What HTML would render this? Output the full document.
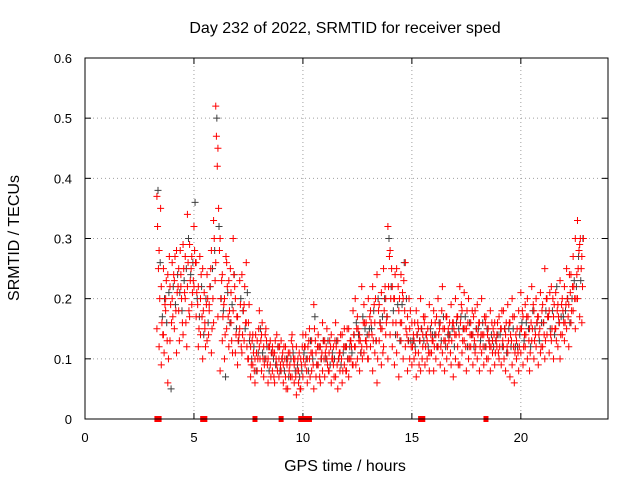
<!DOCTYPE html>
<html><head><meta charset="utf-8">
<style>
html,body{margin:0;padding:0;background:#fff;}
svg{display:block;font-family:"Liberation Sans",sans-serif;font-size:13px;}
.big{font-size:16px;}
</style></head>
<body>
<svg id="chart" width="640" height="480" viewBox="0 0 640 480">
<rect width="640" height="480" fill="#fff"/>
<text class="big" x="345" y="33" text-anchor="middle">Day 232 of 2022, SRMTID for receiver sped</text>
<text class="big" x="345" y="471" text-anchor="middle">GPS time / hours</text>
<text class="big" x="19" y="238" text-anchor="middle" transform="rotate(-90 19 238)">SRMTID / TECUs</text>
<g id="grid"></g>
<g id="ticks"></g>
<g id="marks"></g>
<rect x="85" y="58" width="523" height="361" fill="none" stroke="#000" stroke-width="1"/>
</svg>
<script>
const xTicks=[0,5,10,15,20];
const yTicks=[0,0.1,0.2,0.3,0.4,0.5,0.6];
const yTickLabels=["0","0.1","0.2","0.3","0.4","0.5","0.6"];
const redStart=3.3;
const redCStart=3.33;
const redDStart=3.37;
const blackStart=3.35;
const redA=[.37,.28,.22,.25,.2,.24,.22,
.26,.23,.28,.25,.22,.29,.27,.34,.29,.27,
.32,.26,.22,.2,.25,.16,.24,.19,.28,.33,
.52,.45,.3,.24,.2,.26,.23,.21,.3,.2,
.17,.23,.24,.19,.26,.16,.12,.14,.1,.13,
.18,.14,.12,.15,.1,.13,.12,.11,.14,.1,
.13,.09,.12,.1,.11,.14,.09,.12,.08,.1,
.14,.12,.1,.15,.13,.19,.11,.14,.12,.16,
.13,.15,.11,.14,.12,.16,.13,.11,.14,.15,
.12,.15,.13,.18,.2,.17,.14,.22,.19,.16,
.2,.18,.22,.16,.24,.19,.21,.25,.2,.32,
.28,.22,.2,.25,.18,.24,.2,.26,.17,.15,
.16,.13,.18,.15,.2,.14,.17,.13,.19,.16,
.18,.14,.2,.16,.22,.15,.17,.14,.19,.16,
.2,.17,.22,.18,.21,.15,.2,.16,.14,.18,
.19,.16,.2,.14,.17,.15,.18,.13,.16,.14,
.17,.15,.18,.14,.19,.16,.2,.17,.13,.18,
.21,.17,.19,.2,.15,.22,.18,.2,.17,.21,
.19,.25,.2,.18,.22,.17,.21,.19,.23,.2,
.22,.25,.19,.24,.27,.3,.33,.29,.27];
const redB=[.15,.12,.09,.14,.18,.06,.13,
.2,.15,.11,.18,.24,.14,.2,.22,.17,.19,
.22,.17,.12,.14,.1,.15,.13,.18,.11,.16,
.26,.17,.08,.13,.1,.15,.12,.16,.18,.11,
.09,.15,.11,.13,.16,.1,.07,.09,.06,.08,
.12,.08,.07,.1,.06,.09,.08,.06,.09,.07,
.08,.06,.07,.05,.09,.07,.06,.04,.06,.05,
.07,.09,.06,.1,.08,.05,.07,.09,.06,.08,
.07,.1,.08,.06,.09,.07,.05,.08,.06,.09,
.08,.07,.1,.09,.12,.1,.08,.12,.11,.13,
.1,.12,.08,.11,.06,.13,.09,.12,.14,.1,
.14,.12,.09,.11,.07,.13,.1,.12,.08,.1,
.09,.1,.07,.11,.08,.12,.09,.1,.08,.11,
.08,.1,.12,.09,.11,.08,.1,.13,.09,.07,
.1,.12,.09,.11,.13,.08,.1,.12,.09,.11,
.1,.08,.11,.09,.12,.1,.08,.11,.09,.12,
.1,.09,.12,.08,.11,.07,.09,.06,.1,.08,
.11,.09,.12,.1,.08,.13,.1,.12,.09,.11,
.12,.1,.14,.11,.13,.1,.15,.12,.1,.14,
.13,.15,.12,.16,.18,.15,.2,.17,.16];
const redC=[.32,.2,.16,.11,.23,.1,.19,
.17,.27,.21,.13,.2,.25,.16,.26,.23,.21,
.28,.21,.15,.24,.18,.12,.2,.22,.15,.3,
.47,.35,.2,.17,.14,.22,.18,.13,.24,.14,
.13,.19,.14,.22,.12,.19,.09,.11,.14,.1,
.1,.16,.09,.13,.12,.07,.11,.13,.08,.12,
.1,.12,.05,.11,.07,.12,.1,.08,.11,.09,
.1,.14,.12,.07,.11,.15,.09,.12,.1,.13,
.11,.09,.13,.1,.07,.12,.1,.14,.08,.12,
.15,.1,.12,.14,.09,.15,.13,.1,.16,.12,
.14,.16,.13,.2,.1,.16,.15,.18,.16,.22,
.2,.16,.24,.14,.2,.16,.23,.15,.13,.18,
.12,.16,.14,.09,.15,.17,.12,.15,.11,.13,
.12,.17,.14,.12,.15,.13,.12,.16,.13,.15,
.14,.09,.16,.13,.15,.18,.12,.14,.17,.12,
.14,.12,.14,.17,.1,.13,.12,.15,.11,.16,
.12,.18,.1,.16,.13,.14,.17,.11,.15,.12,
.15,.12,.14,.17,.11,.15,.13,.16,.14,.12,
.16,.13,.17,.21,.15,.19,.13,.17,.14,.18,
.16,.2,.24,.18,.22,.2,.25,.3,.22];
const redD=[.25,.35,.14,.19,.13,.27,.16,
.24,.18,.22,.28,.16,.21,.12,.18,.25,.23,
.26,.19,.27,.17,.21,.19,.14,.25,.2,.23,
.42,.28,.23,.19,.27,.17,.25,.11,.22,.17,
.14,.12,.18,.16,.1,.14,.13,.08,.11,.15,
.13,.1,.14,.09,.12,.11,.07,.1,.12,.09,
.11,.1,.09,.08,.13,.1,.07,.1,.05,.12,
.12,.08,.13,.11,.09,.13,.12,.07,.11,.1,
.12,.08,.12,.1,.13,.09,.11,.1,.12,.08,
.1,.13,.09,.12,.15,.13,.11,.16,.13,.1,
.17,.14,.19,.13,.18,.15,.11,.22,.17,.27,
.25,.2,.16,.22,.16,.21,.18,.14,.2,.12,
.14,.11,.16,.13,.1,.16,.14,.11,.14,.13,
.16,.12,.15,.18,.13,.17,.15,.11,.16,.14,
.17,.14,.19,.15,.12,.16,.14,.18,.13,.15,
.16,.14,.12,.16,.14,.12,.16,.14,.13,.11,
.15,.13,.15,.12,.16,.13,.12,.14,.11,.15,
.18,.14,.17,.13,.16,.19,.14,.17,.15,.18,
.14,.2,.17,.14,.2,.15,.18,.16,.19,.16,
.19,.17,.21,.22,.2,.24,.28,.25,.3];
const blackVals=[.38,.26,.17,.2,.16,.21,.05,
.22,.19,.24,.21,.18,.23,.25,.3,.24,.26,
.36,.2,.17,.22,.14,.2,.16,.22,.25,.28,
.5,.32,.2,.18,.07,.21,.16,.19,.24,.15,
.13,.2,.18,.15,.21,.13,.1,.12,.08,.11,
.15,.11,.1,.12,.08,.11,.1,.09,.12,.08,
.1,.08,.1,.07,.1,.11,.08,.09,.07,.08,
.11,.1,.08,.13,.1,.17,.09,.12,.1,.13,
.1,.13,.09,.11,.1,.13,.1,.09,.11,.12,
.1,.12,.11,.14,.16,.14,.11,.17,.15,.14,
.15,.15,.18,.13,.2,.16,.17,.2,.17,.3,
.22,.18,.14,.19,.13,.19,.26,.2,.13,.13,
.13,.12,.14,.13,.15,.13,.14,.12,.15,.14,
.14,.12,.16,.13,.17,.12,.14,.14,.15,.12,
.16,.15,.17,.15,.17,.12,.16,.14,.12,.15,
.15,.13,.16,.12,.15,.13,.14,.12,.13,.14,
.14,.12,.15,.11,.15,.12,.15,.12,.12,.14,
.16,.13,.16,.15,.12,.18,.15,.16,.13,.16,
.16,.18,.17,.15,.18,.14,.22,.16,.17,.17,
.18,.2,.16,.2,.23,.22,.27,.23,.3];
const zeroTimes=[3.3,3.4,5.4,5.5,7.8,9.0,9.9,10.0,10.1,10.3,15.4,15.5,18.4];

const NS="http://www.w3.org/2000/svg";
const X0=85,X1=608,Y0=419,Y1=58;
function xs(v){return X0+v*(X1-X0)/24;}
function ys(v){return Y0-v*(Y0-Y1)/0.6;}
const grid=document.getElementById('grid'),ticks=document.getElementById('ticks'),marks=document.getElementById('marks');
function ln(g,x1,y1,x2,y2,st,dash){const l=document.createElementNS(NS,'line');l.setAttribute('x1',x1);l.setAttribute('y1',y1);l.setAttribute('x2',x2);l.setAttribute('y2',y2);l.setAttribute('stroke',st);if(dash)l.setAttribute('stroke-dasharray',dash);g.appendChild(l);return l;}
function tx(g,x,y,s,anchor){const t=document.createElementNS(NS,'text');t.setAttribute('x',x);t.setAttribute('y',y);t.setAttribute('text-anchor',anchor);t.textContent=s;g.appendChild(t);return t;}
yTicks.forEach((v,i)=>{const y=ys(v);
 if(i>0&&i<yTicks.length-1){const g=ln(grid,X0,y,X1,y,'#a0a0a0','1,3');
 
 }
 ln(ticks,X0,y,X0+6,y,'#000');ln(ticks,X1,y,X1-6,y,'#000');
 const t=tx(ticks,72,y+5,yTickLabels[i],'end');
 
 });
xTicks.forEach((v,i)=>{const x=xs(v);
 if(i>0){const g=ln(grid,x,Y0,x,Y1,'#a0a0a0','1,3');
 
 }
 ln(ticks,x,Y0,x,Y0-6,'#000');ln(ticks,x,Y1,x,Y1+6,'#000');
 const t=tx(ticks,x,442,String(v),'middle');
 
 });
function plus(x,y,col,name){const p=document.createElementNS(NS,'path');
 p.setAttribute('d','M'+(x-3.5)+' '+y+'h7M'+x+' '+(y-3.5)+'v7');
 p.setAttribute('stroke',col);p.setAttribute('stroke-width','1');
 
 
 marks.appendChild(p);}
blackVals.forEach((v,i)=>plus(xs(blackStart+i*0.1),ys(v),'#404040','black-point'));
redA.forEach((v,i)=>plus(xs(redStart+i*0.1),ys(v),'#ff0000','red-point'));
redB.forEach((v,i)=>plus(xs(redStart+i*0.1),ys(v),'#ff0000','red-point'));
redC.forEach((v,i)=>plus(xs(redCStart+i*0.1),ys(v),'#ff0000','red-point'));
redD.forEach((v,i)=>plus(xs(redDStart+i*0.1),ys(v),'#ff0000','red-point'));
zeroTimes.forEach(t=>{const r=document.createElementNS(NS,'rect');
 r.setAttribute('x',xs(t)-2.5);r.setAttribute('y',ys(0)-3);r.setAttribute('width',5);r.setAttribute('height',6);r.setAttribute('fill','#ff0000');
 
 
 marks.appendChild(r);});
</script>
</body></html>
